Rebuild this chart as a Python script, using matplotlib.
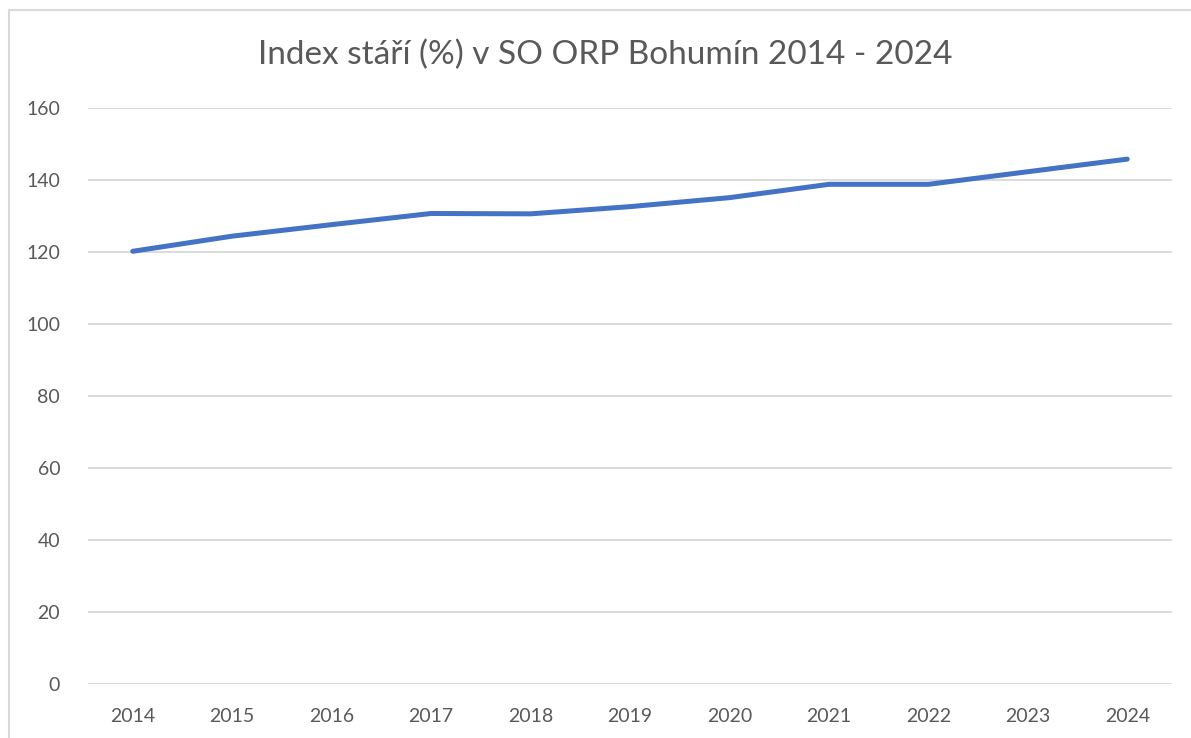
import matplotlib
matplotlib.use("Agg")
from matplotlib import pyplot as plt
from matplotlib.lines import Line2D

years = [2014, 2015, 2016, 2017, 2018, 2019, 2020, 2021, 2022, 2023, 2024]
index_stari = [120.2, 124.4, 127.6, 130.7, 130.6, 132.6, 135.1, 138.8, 138.8, 142.3, 145.8]
y_ticks = [0, 20, 40, 60, 80, 100, 120, 140, 160]
title = "Index stáří (%) v SO ORP Bohumín 2014 - 2024"

plt.rcParams['font.family'] = ['Lato', 'DejaVu Sans']
text_color = "#595959"
grid_color = "#d9d9d9"

fig = plt.figure(figsize=(11.91, 7.38), dpi=100)
W, H = 1191, 738

# plot area in pixels: x 88..1172, y 108..684 (top->bottom)
ax = fig.add_axes([88 / W, 1 - 684 / H, (1172 - 88) / W, (684 - 108) / H])

x = list(range(len(years)))
ax.plot(x, index_stari, color="#4472c4", linewidth=3.6, solid_capstyle="round", solid_joinstyle="round", zorder=3)

ax.set_xlim(-0.45, len(years) - 0.55)
ax.set_ylim(0, 160)
ax.set_yticks(y_ticks)
ax.set_xticks(x)
ax.set_xticklabels([str(y) for y in years])
ax.yaxis.grid(True, color=grid_color, linewidth=1.3)
ax.set_axisbelow(True)
for s in ax.spines.values():
    s.set_visible(False)
ax.tick_params(axis="both", length=0, colors=text_color, labelsize=14)
ax.tick_params(axis="y", pad=20)
ax.tick_params(axis="x", pad=17)

fig.text(605 / W, 1 - 55 / H, title, ha="center", va="center", fontsize=24, color=text_color)

# chart border
fig.add_artist(Line2D([9 / W, 1], [1 - 10 / H, 1 - 10 / H], transform=fig.transFigure, color=grid_color, linewidth=1.5))
fig.add_artist(Line2D([9 / W, 9 / W], [0, 1 - 10 / H], transform=fig.transFigure, color=grid_color, linewidth=1.5))

fig.savefig("out.png", dpi=100)
